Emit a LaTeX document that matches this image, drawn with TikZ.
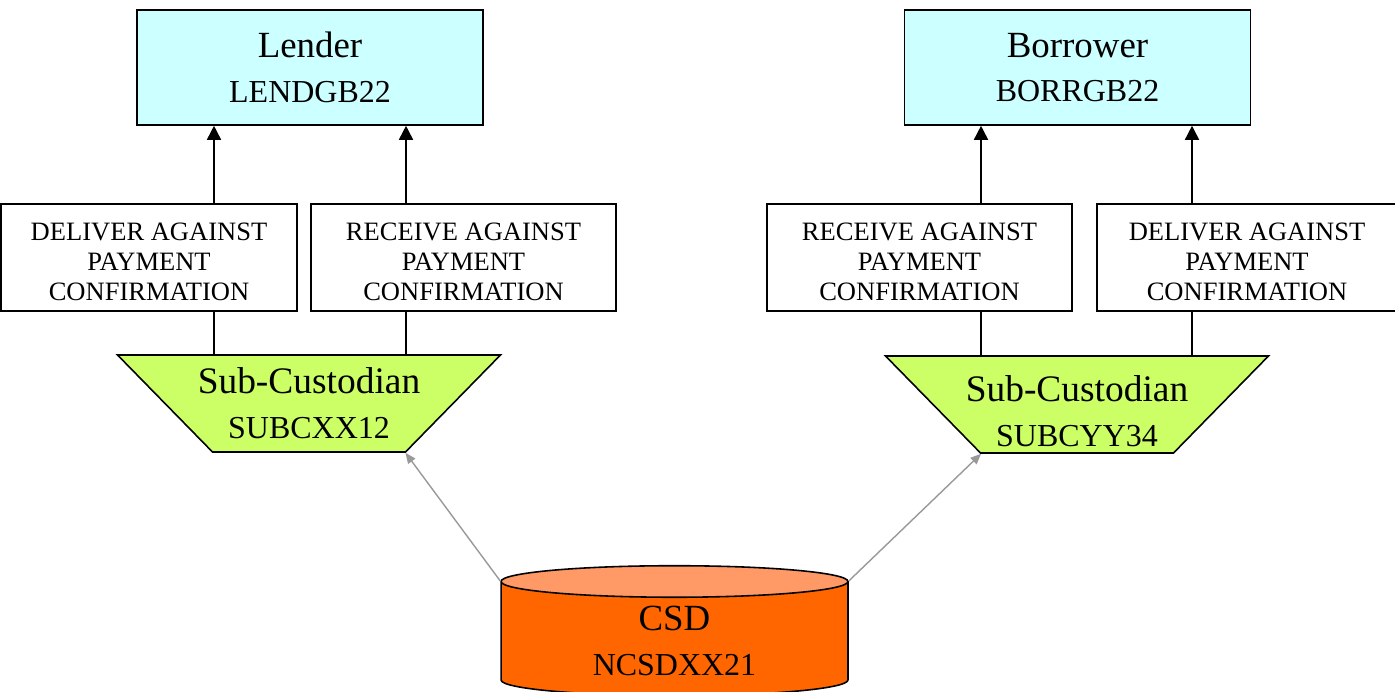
\documentclass[tikz,border=0pt]{standalone}
\usepackage{fontspec}
\setmainfont{Liberation Serif}
\usetikzlibrary{shapes.geometric,arrows.meta,positioning}
\definecolor{partycol}{HTML}{CCFFFF}
\definecolor{custcol}{HTML}{CCFF66}
\definecolor{csdbody}{HTML}{FF6600}
\definecolor{csdtop}{HTML}{FF9966}
\definecolor{feedgray}{HTML}{999999}
\tikzset{
  partybox/.style={draw, fill=partycol, line width=0.9pt, minimum width=6.92cm,
    minimum height=2.3cm, align=center, font=\fontsize{21}{25.5}\selectfont},
  msgbox/.style={draw, fill=white, line width=0.9pt, minimum height=2.14cm,
    inner sep=0pt, align=center, font=\fontsize{15.1}{17.3}\selectfont},
  custbox/.style={trapezium, shape border rotate=180, trapezium angle=45.6,
    draw, fill=custcol, line width=0.9pt, inner xsep=1.93cm, inner ysep=0.97cm},
  custtext/.style={inner sep=0pt, align=center, font=\fontsize{21.3}{25.5}\selectfont},
  csdbase/.style={cylinder, shape border rotate=90, draw, line width=0.9pt,
    cylinder uses custom fill, cylinder body fill=csdbody, cylinder end fill=csdtop,
    minimum width=6.94cm, minimum height=2.6cm, aspect=0.18, align=center,
    font=\fontsize{21}{26}\selectfont},
  flow/.style={line width=0.9pt, -{Triangle[length=8pt,width=8pt]}},
  link/.style={line width=0.9pt},
  feed/.style={feedgray, line width=0.8pt, -{Triangle[length=6pt,width=5pt]}}
}
\newcommand{\idline}{\fontsize{18.2}{25.5}\selectfont}
\newcommand{\confirm}[1]{\rule{0pt}{15pt}#1 AGAINST\\PAYMENT\\CONFIRMATION}
\begin{document}
\begin{tikzpicture}[x=0.02cm,y=-0.02cm]
\useasboundingbox (0,0) rectangle (1395,691);
% parties
\node[partybox] (lender) at (310,67.5) {Lender\\\idline LENDGB22};
\node[partybox] (borrower) at (1077.5,67.5) {Borrower\\\idline BORRGB22};
% confirmations
\node[msgbox, minimum width=5.92cm] (dvpL) at (149,257.5) {\confirm{DELIVER}};
\node[msgbox, minimum width=6.1cm] (rvpL) at (463.5,257.5) {\confirm{RECEIVE}};
\node[msgbox, minimum width=6.1cm] (rvpR) at (919.5,257.5) {\confirm{RECEIVE}};
\node[msgbox, minimum width=6.0cm] (dvpR) at (1247,257.5) {\confirm{DELIVER}};
% sub-custodians
\node[custbox, label={[name=subLtxt, custtext]center:Sub-Custodian\\\idline SUBCXX12}]
  (subL) at (309,403.5) {};
\node[custbox, label={[name=subRtxt, custtext, yshift=-0.14cm]center:Sub-Custodian\\\idline SUBCYY34}]
  (subR) at (1077,404.5) {};
% depository
\node[csdbase] (csd) at (674.5,641) {CSD\\\idline NCSDXX21};
% links up to the parties
\foreach \xa/\msg/\sub/\party in {214/dvpL/subL/lender, 406/rvpL/subL/lender,
    981/rvpR/subR/borrower, 1192/dvpR/subR/borrower} {
  \draw[flow] (\msg.north -| \xa,0) -- (\party.south -| \xa,0);
  \draw[link] (\sub.north -| \xa,0) -- (\msg.south -| \xa,0);
}
% feeds from the CSD
\draw[feed] ([yshift=-0.32cm]csd.top -| csd.west) -- ([xshift=1.93cm]subL.south);
\draw[feed] ([yshift=-0.32cm]csd.top -| csd.east) -- ([xshift=-1.92cm]subR.south);
\end{tikzpicture}
\end{document}
